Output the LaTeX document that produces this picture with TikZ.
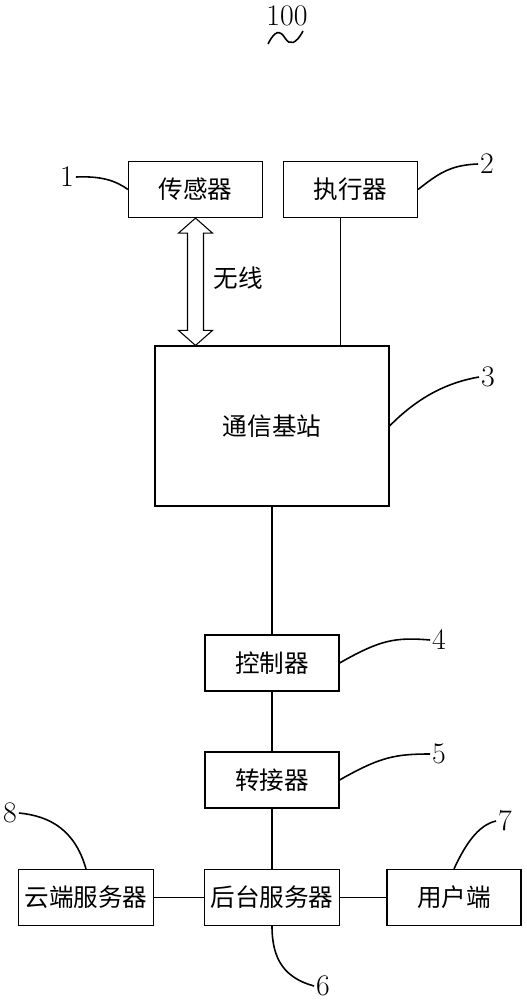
\documentclass[tikz,border=0pt]{standalone}
\usepackage{fontspec}
\newfontfamily\cjk{Noto Sans CJK SC}
\usepackage{tikz}
\usetikzlibrary{positioning,calc}

\begin{document}
\begin{tikzpicture}[
    x=0.02cm, y=-0.02cm,
    box/.style={rectangle, draw, line width=0.7pt, minimum width=2.68cm, minimum height=1.12cm, font=\cjk\fontsize{14}{16}\selectfont},
    num/.style={font=\fontsize{17}{19}\selectfont, inner sep=1pt},
    lead/.style={line width=0.9pt},
    link/.style={line width=0.6pt}
]
\useasboundingbox (0,0) rectangle (527,1000);
% Nodes
\node[box] (sensor) at (195.5,189.5) {传感器};
\node[box] (act) at (350.5,189.5) {执行器};
\node[box, minimum width=4.68cm, minimum height=3.2cm] (bs) at (272,426) {通信基站};
\node[box] (ctrl) at (272,663) {控制器};
\node[box] (adapter) at (272,780) {转接器};
\node[box] (backend) at (272,897.5) {后台服务器};
\node[box] (cloud) at (86,897.5) {云端服务器};
\node[box] (user) at (454,897.5) {用户端};
\node[font=\cjk\fontsize{14}{16}\selectfont] (wl) at (238,278) {无线};

% Reference numbers
\node[num] (ref) at (287,16) {100};
\node[num] (n1) at (67,177) {1};
\node[num] (n2) at (487,164) {2};
\node[num] (n3) at (488,377) {3};
\node[num] (n4) at (439,640) {4};
\node[num] (n5) at (439,754) {5};
\node[num] (n6) at (323,986) {6};
\node[num] (n7) at (505,821) {7};
\node[num] (n8) at (10,813) {8};
\draw[lead] (268,44) .. controls (275,30) and (280,30) .. (285,38) .. controls (290,46) and (296,44) .. (303,31);

% Edges
\draw[link] (sensor.south) -- ++(-17,15) -- ++(9,0) -- ($(bs.north -| sensor.south)+(-8,-15)$) -- ++(-9,0)
    -- (bs.north -| sensor.south) -- ++(17,-15) -- ++(-9,0) -- ($(sensor.south)+(8,15)$) -- ++(9,0) -- cycle;
\draw[link] ($(act.south)+(-10,0)$) -- ($(act.south |- bs.north)+(-10,0)$);
\draw[link] (bs.south) -- (ctrl.north);
\draw[link] (ctrl.south) -- (adapter.north);
\draw[link] (adapter.south) -- (backend.north);
\draw[link] (cloud.east) -- (backend.west);
\draw[link] (backend.east) -- (user.west);

% Leaders
\draw[lead] (n1.east) .. controls (100,176) and (115,180) .. (sensor.west);
\draw[lead] (act.east) .. controls (440,172) and (452,165) .. (n2.west);
\draw[lead] (bs.east) .. controls (420,395) and (450,382) .. (n3.west);
\draw[lead] (ctrl.east) .. controls (380,640) and (395,637) .. (n4.west);
\draw[lead] (adapter.east) .. controls (380,757) and (395,754) .. (n5.west);
\draw[lead] (backend.south) .. controls (272,960) and (285,978) .. (n6.west);
\draw[lead] (user.north) .. controls (465,845) and (478,825) .. (n7.west);
\draw[lead] (cloud.north) .. controls (75,830) and (50,816) .. (n8.east);
\end{tikzpicture}
\end{document}
